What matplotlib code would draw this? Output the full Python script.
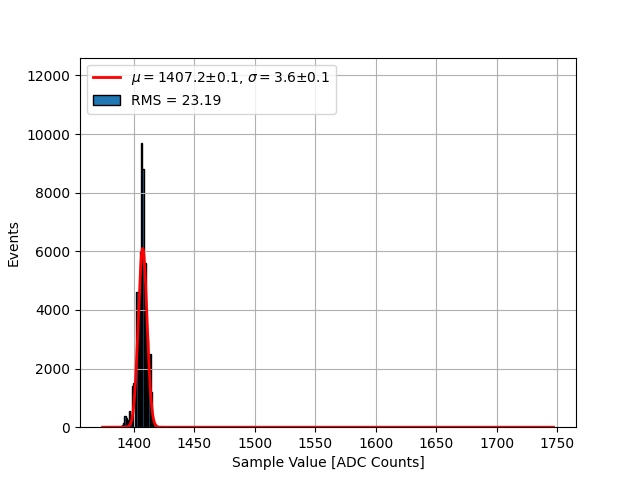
import numpy as np
import matplotlib
matplotlib.use('Agg')
import matplotlib.pyplot as plt

# ADC sample values (integer codes) and number of events in each
adc_values = [1374, 1390, 1391, 1392, 1393, 1394, 1395, 1396, 1397, 1398, 1399,
              1400, 1401, 1402, 1403, 1404, 1405, 1406, 1407, 1408, 1409,
              1410, 1411, 1412, 1413, 1414, 1415, 1416, 1417, 1738, 1746]
counts = [5, 60, 150, 380, 300, 120, 250, 550, 300, 1400, 1500,
          900, 2000, 4600, 4500, 3500, 6000, 9700, 8800, 5500, 5600,
          3200, 3000, 1500, 2500, 1200, 300, 100, 30, 20, 5]

# gaussian fit results
mu, mu_err = 1407.2, 0.1
sigma, sigma_err = 3.6, 0.1
amplitude = 6100
rms = 23.19

edges = np.arange(min(adc_values), max(adc_values) + 2)

fig, ax = plt.subplots(figsize=(6.4, 4.8), dpi=100)

xfit = np.linspace(edges[0], edges[-1], 2000)
yfit = amplitude * np.exp(-0.5 * ((xfit - mu) / sigma) ** 2)
ax.plot(xfit, yfit, color='red', lw=2, zorder=3,
        label=r'$\mu=${0}$\pm${1}, $\sigma=${2}$\pm${3}'.format(
            mu, mu_err, sigma, sigma_err))

ax.hist(adc_values, bins=edges, weights=counts, edgecolor='black',
        label='RMS = {0:.2f}'.format(rms))

ax.set_ylim(0, 1.3 * max(counts))
ax.set_xlabel('Sample Value [ADC Counts]')
ax.set_ylabel('Events')
ax.grid(True)
ax.legend(loc='upper left')

fig.savefig('out.png')
